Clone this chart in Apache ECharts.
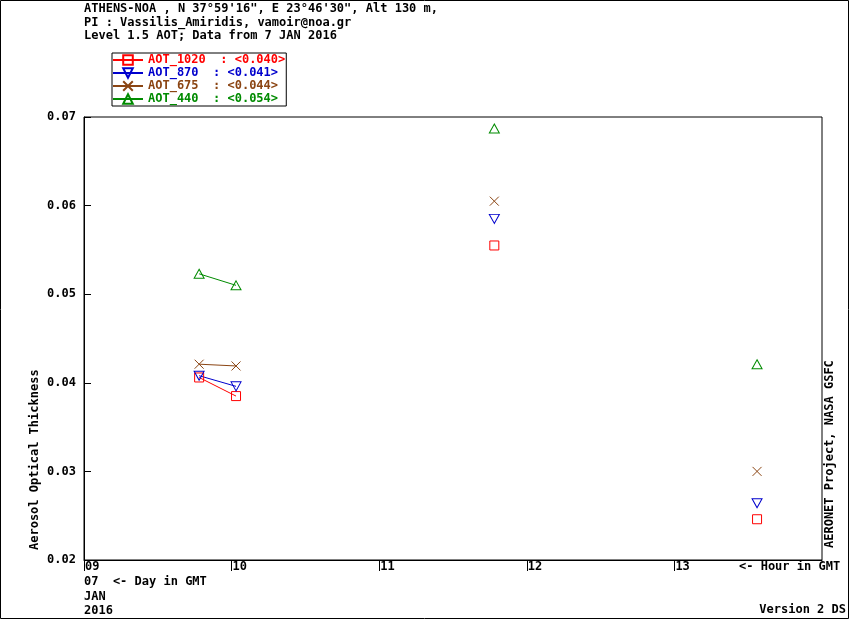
<!DOCTYPE html>
<html>
<head>
<meta charset="utf-8">
<title>AERONET AOT</title>
<script src="https://cdn.jsdelivr.net/npm/echarts@6/dist/echarts.min.js"></script>
<style>
  html, body { margin: 0; padding: 0; background: #fff; }
  #chart { width: 850px; height: 620px; }
</style>
</head>
<body>
<div id="chart"></div>
<script>
// hour of day (GMT) for each observation
const hours = [9.78, 10.03, 11.78, 13.56]
const aot1020 = [0.0406, 0.0385, 0.0555, 0.0246]
const aot870 = [0.0408, 0.0396, 0.0585, 0.0264]
const aot675 = [0.0421, 0.0419, 0.0605, 0.0300]
const aot440 = [0.0523, 0.0510, 0.0687, 0.0421]
const seriesNames = ['AOT_1020', 'AOT_870', 'AOT_675', 'AOT_440']
const seriesMeans = ['0.040', '0.041', '0.044', '0.054']
const xTicks = [9, 10, 11, 12, 13]
const yTicks = [0.02, 0.03, 0.04, 0.05, 0.06, 0.07]
const headerLines = [
  'ATHENS-NOA , N 37°59\'16", E 23°46\'30", Alt 130 m,',
  'PI : Vassilis_Amiridis, vamoir@noa.gr',
  'Level 1.5 AOT; Data from 7 JAN 2016'
]

const FONT = 'DejaVu Sans Mono'
const colors = ['#ff0000', '#0000cd', '#8b4513', '#008b00']
const symbols = ['rect', 'triangle', 'path://M0,0L10,10M0,10L10,0', 'triangle']
const rotates = [0, 180, 0, 0]
const sizes = [9, [10, 9], 9, [10, 9]]

// break the line when observations are more than an hour apart
const buildData = (values) => {
  const out = []
  values.forEach((v, i) => {
    if (i > 0 && hours[i] - hours[i - 1] > 1) out.push([hours[i - 1], '-'])
    out.push([hours[i], v])
  })
  return out
}

const allValues = [aot1020, aot870, aot675, aot440]

const series = seriesNames.map((name, i) => ({
  name,
  type: 'line',
  color: colors[i],
  data: buildData(allValues[i]),
  connectNulls: false,
  symbol: symbols[i],
  symbolRotate: rotates[i],
  symbolSize: sizes[i],
  showAllSymbol: true,
  lineStyle: { color: colors[i], width: 1 },
  itemStyle: { color: 'rgba(0,0,0,0)', borderColor: colors[i], borderWidth: 1 },
  emphasis: { disabled: true },
  animation: false
}))

const txt = (text, x, y, extra) => ({
  type: 'text', x, y,
  style: Object.assign({ text, font: `bold 12px "${FONT}"`, fill: '#000', verticalAlign: 'middle' }, extra || {})
})

const chart = echarts.init(document.getElementById('chart'), null, { renderer: 'canvas' })

chart.setOption({
  animation: false,
  backgroundColor: '#fff',
  textStyle: { fontFamily: FONT, fontWeight: 'bold', fontSize: 12 },
  grid: {
    left: 84, right: 28, top: 117, bottom: 60,
    show: true, borderColor: '#000', borderWidth: 1
  },
  legend: {
    orient: 'vertical',
    left: 112, top: 53,
    padding: [1, 1, 1, 0],
    itemWidth: 30, itemHeight: 12, itemGap: 1,
    borderColor: '#000', borderWidth: 1,
    selectedMode: false,
    data: seriesNames.map((n, i) => ({ name: n, textStyle: { color: colors[i] } })),
    formatter: (n) => `${n}  : <${seriesMeans[seriesNames.indexOf(n)]}>`,
    textStyle: { fontFamily: FONT, fontWeight: 'bold', fontSize: 12, padding: [0, 0, 0, 0] }
  },
  xAxis: {
    type: 'value',
    min: 9, max: 14, interval: 1,
    axisLine: { lineStyle: { color: '#000', width: 1 } },
    axisTick: { show: true, inside: false, length: 11, lineStyle: { color: '#000' }, customValues: xTicks },
    axisLabel: {
      color: '#000', fontFamily: FONT, fontWeight: 'bold', fontSize: 12,
      align: 'left', margin: 1, padding: [0, 0, 0, 1],
      customValues: xTicks,
      formatter: (v) => String(v).padStart(2, '0')
    },
    splitLine: { show: false }
  },
  yAxis: {
    type: 'value',
    min: 0.02, max: 0.07, interval: 0.01,
    axisLine: { lineStyle: { color: '#000', width: 1 } },
    axisTick: { show: true, inside: true, length: 7, lineStyle: { color: '#000' }, customValues: yTicks },
    axisLabel: {
      color: '#000', fontFamily: FONT, fontWeight: 'bold', fontSize: 12, margin: 8,
      customValues: yTicks,
      formatter: (v) => v.toFixed(2)
    },
    splitLine: { show: false }
  },
  series,
  graphic: [
    {
      type: 'rect', shape: { x: 0.5, y: 0.5, width: 848, height: 618 },
      style: { fill: 'none', stroke: '#000', lineWidth: 1 }, silent: true
    },
    txt(headerLines[0], 84, 9),
    txt(headerLines[1], 84, 23),
    txt(headerLines[2], 84, 36),
    txt('07  <- Day in GMT', 84, 582),
    txt('JAN', 84, 597),
    txt('2016', 84, 611),
    txt('<- Hour in GMT', 739, 567),
    txt('Version 2 DS', 846, 610, { align: 'right' }),
    Object.assign(txt('Aerosol Optical Thickness', 35, 550, { align: 'left' }), { rotation: Math.PI / 2 }),
    Object.assign(txt('AERONET Project, NASA GSFC', 830, 548, { align: 'left' }), { rotation: Math.PI / 2 })
  ]
})
</script>
</body>
</html>
